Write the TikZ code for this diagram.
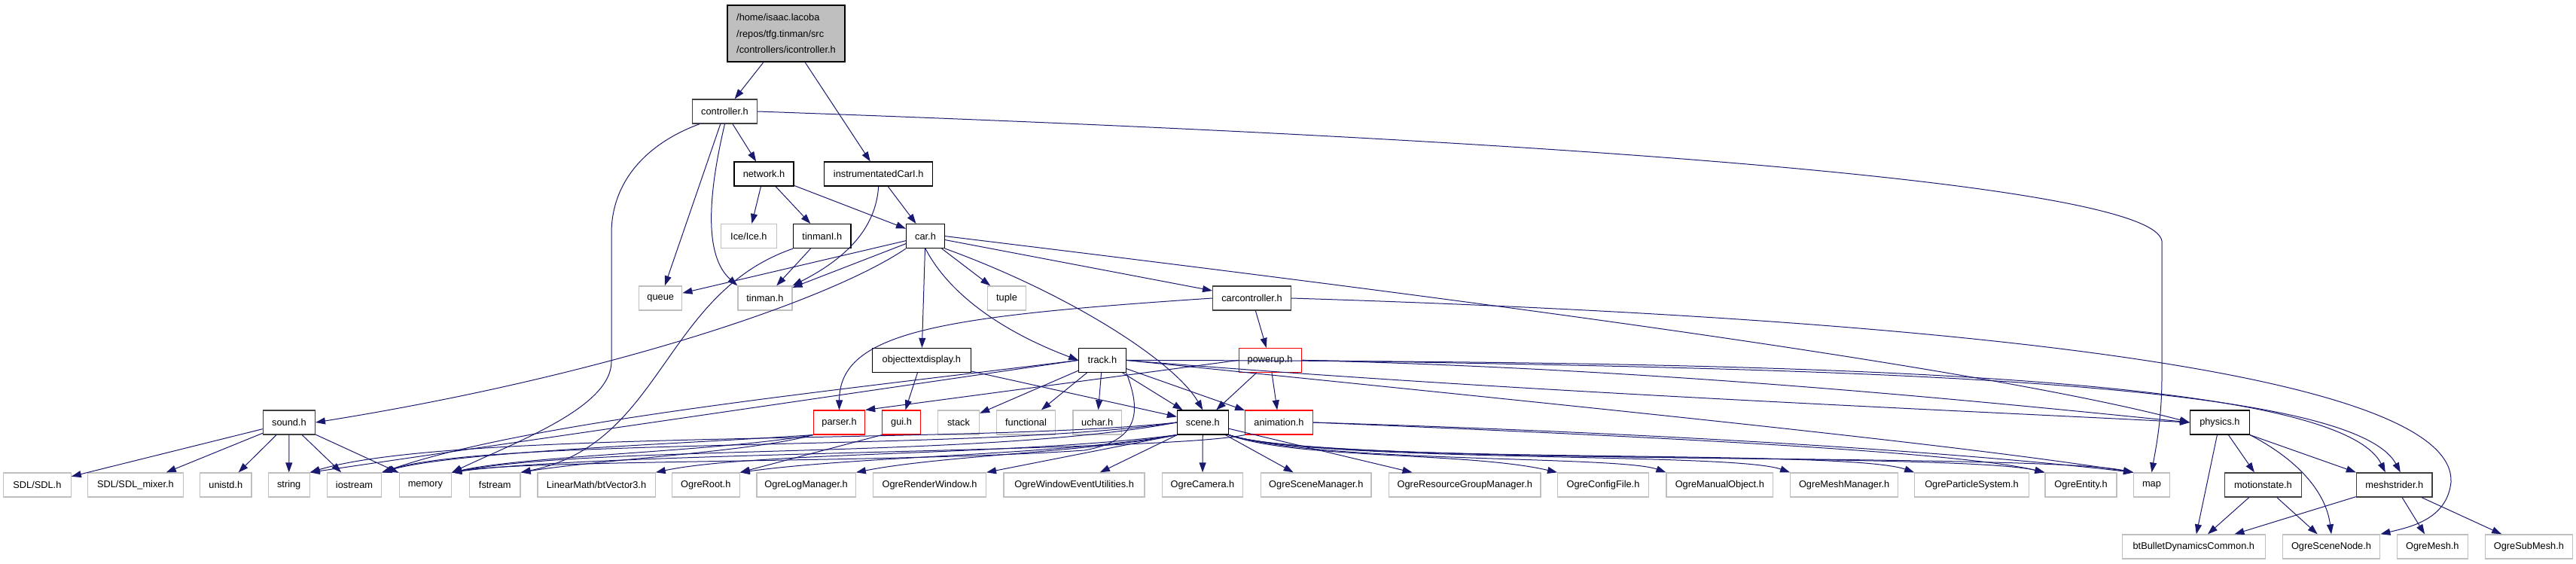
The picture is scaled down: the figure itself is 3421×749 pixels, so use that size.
\documentclass[tikz,border=0pt]{standalone}
\usepackage{fontspec}
\setmainfont{Liberation Sans}
\usetikzlibrary{arrows.meta}

\definecolor{midnightblue}{RGB}{25,25,112}
\definecolor{nodegray}{RGB}{191,191,191}
\definecolor{grey25}{RGB}{64,64,64}

\tikzset{
    file/.style={draw, line width=1.1pt, minimum height=32pt, inner sep=2pt, fill=white, font=\fontsize{12.8}{15}\selectfont},
    docfile/.style={file, draw=black},
    linkfile/.style={file, draw=grey25, line width=1.4pt},
    sysfile/.style={file, draw=nodegray, line width=1.3pt},
    truncfile/.style={file, draw=red},
    rootfile/.style={file, fill=nodegray, draw=black},
    edge/.style={draw=midnightblue, line width=1pt, -{Triangle[length=13pt,width=9pt]}}
}

\begin{document}
\begin{tikzpicture}[x=1pt, y=-1pt]

    \useasboundingbox (0,0) rectangle (3421,749);

    % Root file
    \node[rootfile, minimum width=156pt, minimum height=75pt, align=left, font=\fontsize{12.8}{21.5}\selectfont] (root) at (1044,44.5) {/home/isaac.lacoba\\/repos/tfg.tinman/src\\/controllers/icontroller.h};

    % Project headers
    \node[linkfile, minimum width=85.7pt] (controller) at (962.5,148) {controller.h};
    \node[docfile, minimum width=79pt] (network) at (1014.5,231) {network.h};
    \node[docfile, minimum width=144.2pt] (instcar) at (1166.7,231) {instrumentatedCarI.h};
    \node[docfile, minimum width=76.3pt] (tinmani) at (1091.8,313.6) {tinmanI.h};
    \node[docfile, minimum width=51pt] (car) at (1229,313.6) {car.h};
    \node[linkfile, minimum width=103.6pt] (carctrl) at (1662.5,396) {carcontroller.h};
    \node[docfile, minimum width=130.8pt] (objtext) at (1223.9,478.4) {objecttextdisplay.h};
    \node[docfile, minimum width=62.5pt] (track) at (1463.9,478.4) {track.h};
    \node[truncfile, minimum width=83pt] (powerup) at (1686.6,478.4) {powerup.h};
    \node[linkfile, minimum width=68.8pt] (sound) at (383.9,561) {sound.h};
    \node[truncfile, minimum width=68.3pt] (parser) at (1114.5,561) {parser.h};
    \node[truncfile, minimum width=50.5pt] (gui) at (1197,561) {gui.h};
    \node[docfile, minimum width=67.8pt] (scene) at (1597.3,561) {scene.h};
    \node[truncfile, minimum width=89.7pt] (animation) at (1698.5,561) {animation.h};
    \node[docfile, minimum width=78.8pt] (physics) at (2947.9,561) {physics.h};
    \node[linkfile, minimum width=101.7pt] (motionstate) at (3005.4,644) {motionstate.h};
    \node[linkfile, minimum width=100.6pt] (meshstrider) at (3179.8,644) {meshstrider.h};

    % System headers
    \node[sysfile, minimum width=73.6pt] (iceice) at (994.4,313.6) {Ice/Ice.h};
    \node[sysfile, minimum width=57.2pt] (queue) at (877.2,396) {queue};
    \node[sysfile, minimum width=71.9pt] (tinman) at (1015.9,396) {tinman.h};
    \node[sysfile, minimum width=51pt] (tuple) at (1337,396) {tuple};
    \node[sysfile, minimum width=55pt] (stack) at (1273,561) {stack};
    \node[sysfile, minimum width=78pt] (functional) at (1362.5,561) {functional};
    \node[sysfile, minimum width=64.3pt] (uchar) at (1457.2,561) {uchar.h};
    \node[sysfile, minimum width=89.7pt] (sdl) at (49.4,644) {SDL/SDL.h};
    \node[sysfile, minimum width=126.8pt] (sdlmixer) at (179.9,644) {SDL/SDL\_mixer.h};
    \node[sysfile, minimum width=68.3pt] (unistd) at (299.8,644) {unistd.h};
    \node[sysfile, minimum width=54.9pt] (string) at (383.7,644) {string};
    \node[sysfile, minimum width=72.4pt] (iostream) at (470.5,644) {iostream};
    \node[sysfile, minimum width=69.2pt] (memory) at (564.9,644) {memory};
    \node[sysfile, minimum width=67.4pt] (fstream) at (657.3,644) {fstream};
    \node[sysfile, minimum width=156.3pt] (btvector) at (792,644) {LinearMath/btVector3.h};
    \node[sysfile, minimum width=89.7pt] (ogreroot) at (937.3,644) {OgreRoot.h};
    \node[sysfile, minimum width=131.3pt] (ogrelog) at (1070.6,644) {OgreLogManager.h};
    \node[sysfile, minimum width=149.6pt] (ogrerender) at (1234.6,644) {OgreRenderWindow.h};
    \node[sysfile, minimum width=187pt] (ogrewin) at (1426.6,644) {OgreWindowEventUtilities.h};
    \node[sysfile, minimum width=106.7pt] (ogrecam) at (1597,644) {OgreCamera.h};
    \node[sysfile, minimum width=146.5pt] (ogrescenemgr) at (1747.8,644) {OgreSceneManager.h};
    \node[sysfile, minimum width=201.4pt] (ogreresgrp) at (1945.3,644) {OgreResourceGroupManager.h};
    \node[sysfile, minimum width=120.6pt] (ogrecfg) at (2129,644) {OgreConfigFile.h};
    \node[sysfile, minimum width=141.5pt] (ogremanual) at (2283.8,644) {OgreManualObject.h};
    \node[sysfile, minimum width=142.8pt] (ogremeshmgr) at (2449.1,644) {OgreMeshManager.h};
    \node[sysfile, minimum width=151.4pt] (ogreparticle) at (2618.5,644) {OgreParticleSystem.h};
    \node[sysfile, minimum width=95pt] (ogreentity) at (2763.5,644) {OgreEntity.h};
    \node[sysfile, minimum width=47.5pt] (map) at (2857.5,644) {map};
    \node[sysfile, minimum width=190.1pt] (btbullet) at (2913.3,726) {btBulletDynamicsCommon.h};
    \node[sysfile, minimum width=129.5pt] (ogrescenenode) at (3096,726) {OgreSceneNode.h};
    \node[sysfile, minimum width=93.8pt] (ogremesh) at (3230.3,726) {OgreMesh.h};
    \node[sysfile, minimum width=116.4pt] (ogresubmesh) at (3358.4,726) {OgreSubMesh.h};

    % icontroller.h
    \draw[edge] (root) -- (controller);
    \draw[edge] (root) -- (instcar);

    % controller.h
    \draw[edge] (controller) -- (network);
    \draw[edge] (controller) -- (queue);
    \draw[edge] (controller.south) .. controls (940,260) and (935,340) .. (tinman.north west);
    \draw[edge] ([xshift=10pt]controller.south west) .. controls (860,190) and (812,240) .. (812,310) -- (812,480) .. controls (812,540) and (690,585) .. (memory.north east);
    \draw[edge] (controller.east) .. controls (2200,190) and (2860,250) .. (2871,320) -- (2871,500) .. controls (2871,560) and (2862,600) .. (map.north);

    % network.h and instrumentatedCarI.h
    \draw[edge] (network) -- (iceice);
    \draw[edge] (network) -- (tinmani);
    \draw[edge] (network) -- (car);
    \draw[edge] (instcar) -- (car);
    \draw[edge] (instcar.south) .. controls (1164,290) and (1140,335) .. (tinman.north east);

    % tinmanI.h
    \draw[edge] (tinmani) -- (tinman);
    \draw[edge] (tinmani.south west) .. controls (880,390) and (880,590) .. (fstream.north east);

    % car.h
    \draw[edge] (car) -- (queue);
    \draw[edge] (car) -- (tinman);
    \draw[edge] (car) -- (tuple);
    \draw[edge] (car) -- (objtext);
    \draw[edge] (car) -- (carctrl);
    \draw[edge] (car.south west) .. controls (1100,400) and (800,500) .. (sound.east);
    \draw[edge] (car.south) .. controls (1260,390) and (1330,440) .. (track.west);
    \draw[edge] (car.south east) .. controls (1420,390) and (1560,480) .. (scene.north);
    \draw[edge] (car.east) .. controls (1800,380) and (2600,480) .. (physics.west);

    % carcontroller.h
    \draw[edge] (carctrl) -- (powerup);
    \draw[edge] (carctrl.west) .. controls (1250,420) and (1115,440) .. (parser.north);
    \draw[edge] (carctrl.east) .. controls (2800,430) and (3260,520) .. (3255,640) .. controls (3250,690) and (3200,700) .. (ogrescenenode.north east);

    % objecttextdisplay.h
    \draw[edge] (objtext) -- (gui);
    \draw[edge] (objtext) -- (scene);

    % track.h
    \draw[edge] (track) -- (stack);
    \draw[edge] (track) -- (functional);
    \draw[edge] (track) -- (uchar);
    \draw[edge] (track) -- (scene);
    \draw[edge] (track) -- (animation);
    \draw[edge] (track.west) -- (string.north east);
    \draw[edge] (track.west) .. controls (1100,520) and (700,560) .. (iostream.north east);
    \draw[edge] (track.south east) .. controls (1515,545) and (1515,585) .. (1440,598) .. controls (1200,615) and (700,610) .. (memory.north east);
    \draw[edge] (track.east) .. controls (2000,520) and (2600,545) .. (physics.west);
    \draw[edge] (track.east) .. controls (2300,480) and (3100,490) .. ([xshift=-12pt]meshstrider.north);
    \draw[edge] (track.east) .. controls (2100,540) and (2600,590) .. (map.north west);

    % powerup.h
    \draw[edge] (powerup) -- (scene);
    \draw[edge] (powerup) -- (animation);
    \draw[edge] (powerup.west) -- (parser.north east);
    \draw[edge] (powerup.east) .. controls (2200,490) and (2600,530) .. (physics.west);
    \draw[edge] (powerup.east) .. controls (2400,490) and (3120,500) .. ([xshift=8pt]meshstrider.north);

    % scene.h
    \draw[edge] (scene) -- (ogrecam);
    \draw[edge] (scene) -- (ogrewin);
    \draw[edge] (scene) -- (ogrescenemgr);
    \draw[edge] (scene) -- (ogreresgrp);
    \draw[edge] (scene.south west) -- (ogrerender.north east);
    \draw[edge] (scene.south east) .. controls (1720,610) and (1950,600) .. (ogrecfg.north west);
    \draw[edge] (scene.south east) .. controls (1750,615) and (2150,605) .. (ogremanual.north west);
    \draw[edge] (scene.south east) .. controls (1750,615) and (2300,600) .. (ogremeshmgr.north west);
    \draw[edge] (scene.south east) .. controls (1750,618) and (2450,595) .. (ogreparticle.north west);
    \draw[edge] (scene.south east) .. controls (1750,618) and (2600,600) .. (ogreentity.north west);
    \draw[edge] (scene.south east) .. controls (1750,620) and (2700,600) .. (map.north west);
    \draw[edge] (scene.south west) .. controls (1450,600) and (1250,605) .. (ogrelog.north east);
    \draw[edge] (scene.south west) .. controls (1400,605) and (1150,605) .. (ogreroot.north east);
    \draw[edge] (scene.south west) .. controls (1350,605) and (1000,600) .. (btvector.north east);
    \draw[edge] (scene.west) .. controls (1300,610) and (800,590) .. (memory.north east);
    \draw[edge] (scene.west) .. controls (1300,600) and (650,580) .. (iostream.north east);
    \draw[edge] (scene.west) .. controls (1300,590) and (600,570) .. (string.north east);

    % animation.h
    \draw[edge] (animation.east) .. controls (2200,575) and (2600,600) .. (map.north west);
    \draw[edge] (animation.east) .. controls (2200,580) and (2600,600) .. (ogreentity.north west);
    \draw[edge] (animation.south west) .. controls (1550,600) and (800,600) .. (memory.north east);

    % gui.h and parser.h
    \draw[edge] (gui.south west) -- (ogreroot.north east);
    \draw[edge] (parser.south west) .. controls (900,590) and (600,600) .. (iostream.north east);
    \draw[edge] (parser.south west) .. controls (950,600) and (700,605) .. (memory.north east);
    \draw[edge] (parser.south west) .. controls (1000,600) and (800,610) .. (fstream.north east);

    % sound.h
    \draw[edge] (sound) -- (sdl);
    \draw[edge] (sound) -- (sdlmixer);
    \draw[edge] (sound) -- (unistd);
    \draw[edge] (sound) -- (string);
    \draw[edge] (sound) -- (iostream);
    \draw[edge] (sound) -- (memory);

    % physics.h
    \draw[edge] (physics) -- (btbullet);
    \draw[edge] (physics) -- (motionstate);
    \draw[edge] (physics.south east) -- (meshstrider.north west);
    \draw[edge] (physics.south east) .. controls (3060,615) and (3090,660) .. (ogrescenenode.north);

    % motionstate.h and meshstrider.h
    \draw[edge] (motionstate) -- (btbullet);
    \draw[edge] (motionstate) -- (ogrescenenode);
    \draw[edge] (meshstrider) -- (btbullet);
    \draw[edge] (meshstrider) -- (ogremesh);
    \draw[edge] (meshstrider) -- (ogresubmesh);

\end{tikzpicture}
\end{document}
